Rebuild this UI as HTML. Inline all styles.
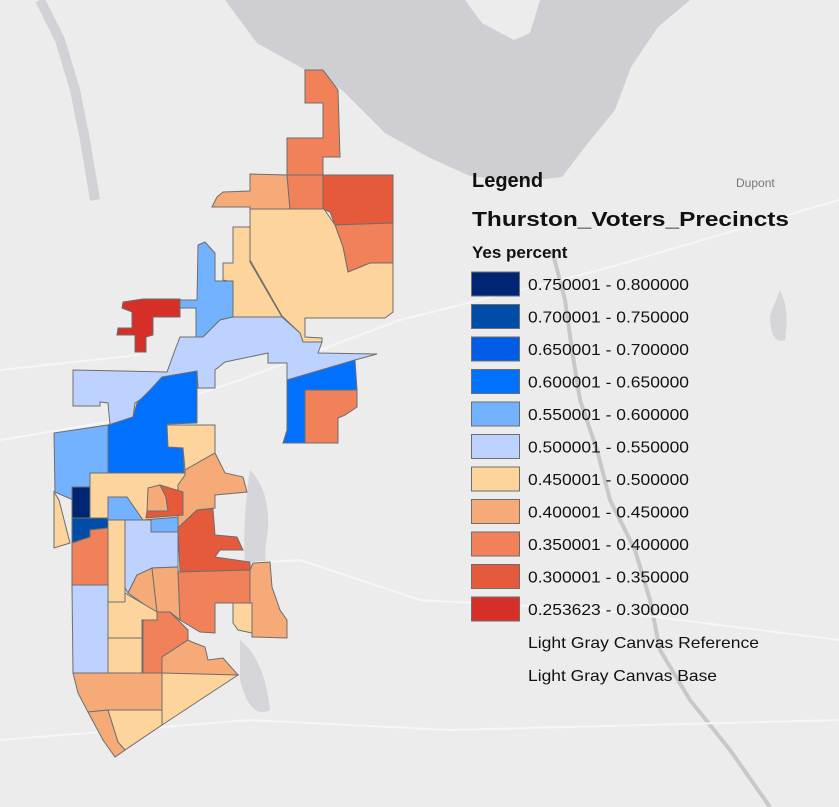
<!DOCTYPE html>
<html><head><meta charset="utf-8"><style>
html,body{margin:0;padding:0;background:#ececec;}
svg{display:block;font-family:"Liberation Sans",sans-serif;}
</style></head><body>
<svg id="map" width="839" height="807" viewBox="0 0 839 807" xmlns="http://www.w3.org/2000/svg">
<rect x="0" y="0" width="839" height="807" fill="#ececec"/>
<g fill="#cfcfd3">
<polygon points="225,0 690,0 658,27 631,67 615,110 588,143 562,177 520,182 470,176 428,157 385,133 342,90 300,67 257,43"/>
<polygon fill="#ececec" points="465,0 540,0 530,33 514,40 482,23"/>
<path fill="#d6d6da" d="M250,470 q20,20 18,60 q-8,40 8,80 q-25,8 -30,-30 q-5,-50 4,-110z M780,290 q10,20 5,50 q-15,5 -15,-25z M240,640 q25,20 30,70 q-20,10 -30,-30z"/>
</g>
<polyline points="40,0 60,40 75,90 85,140 95,200" fill="none" stroke="#d2d2d6" stroke-width="10"/>
<polyline points="552,250 565,300 572,350 580,400 597,450 610,500 635,550 650,600 660,650 690,700 730,750 770,807" fill="none" stroke="#c8c8cc" stroke-width="4"/>
<g fill="none" stroke="#f6f6f6" stroke-width="2">
<polyline points="0,440 120,420 240,380 400,320 600,270 839,200"/>
<polyline points="0,370 140,355"/>
<polyline points="130,570 300,560 420,600 600,610 839,640"/>
<polyline points="0,740 250,720 450,730 839,720"/>
</g>
<text x="736" y="187" font-size="12" fill="#777">Dupont</text>
<g id="precincts" stroke="#6e6e6e" stroke-width="1"></g>
<g id="legend">
<text x="472" y="187" font-size="20" font-weight="bold" fill="#111">Legend</text>
<text x="472" y="226" font-size="20" font-weight="bold" fill="#111" textLength="317" lengthAdjust="spacingAndGlyphs">Thurston_Voters_Precincts</text>
<text x="472" y="258" font-size="17" font-weight="bold" fill="#111">Yes percent</text>
<text x="528" y="648" font-size="16" fill="#111" textLength="231" lengthAdjust="spacingAndGlyphs">Light Gray Canvas Reference</text>
<text x="528" y="681" font-size="16" fill="#111" textLength="189" lengthAdjust="spacingAndGlyphs">Light Gray Canvas Base</text>
</g>
</svg>
<script>
const classLabels = ["0.750001 - 0.800000","0.700001 - 0.750000","0.650001 - 0.700000","0.600001 - 0.650000","0.550001 - 0.600000","0.500001 - 0.550000","0.450001 - 0.500000","0.400001 - 0.450000","0.350001 - 0.400000","0.300001 - 0.350000","0.253623 - 0.300000"];
const classColors = ["#002673","#004da8","#005ce6","#0070ff","#73b2ff","#bed2ff","#fcd49c","#f5aa78","#f08159","#e65a3c","#d62f27"];
const precinctClass = [8,7,8,9,8,6,6,4,10,5,3,3,8,4,6,6,7,9,7,4,4,0,1,6,5,8,6,5,7,7,8,6,8,7,6,6,9,7,7,6,7,6];
const precinctShapes = [
"305,70 323,70 338,90 340,157 323,157 323,175 287,175 287,138 323,138 323,103 305,103",
"250,174 287,175 290,209 250,209 250,207 212,207 217,197 223,192 250,191",
"287,175 323,175 323,209 290,209",
"323,175 393,175 393,223 335,225 330,212 323,209",
"335,225 393,223 393,263 370,263 348,272 343,247",
"250,209 324,209 335,225 343,247 348,272 370,263 393,263 393,312 385,318 305,318 305,337 322,338 322,342 303,342 300,333 282,316 250,260",
"233,227 250,227 250,262 282,317 233,317 232,282 223,280 223,263 233,263",
"180,300 197,300 198,245 205,242 215,253 215,281 233,281 233,317 220,320 203,337 196,337 196,308 180,308",
"123,302 143,299 180,299 180,317 153,317 153,335 146,337 146,352 135,352 135,335 117,335 118,328 132,328 132,312 122,308",
"73,370 167,372 175,350 180,337 203,337 220,320 233,317 282,317 300,333 303,342 322,342 318,353 377,354 355,360 287,380 287,363 268,363 268,353 225,362 215,370 215,388 198,388 197,371 167,378 150,393 135,403 133,417 110,425 108,403 100,402 100,406 73,406",
"108,425 133,417 137,403 150,390 162,377 197,371 197,423 167,424 168,447 183,448 184,474 108,473",
"287,380 355,360 357,390 305,390 305,443 283,443 287,430",
"305,390 357,390 357,407 345,415 338,418 338,443 305,443",
"54,433 108,425 108,487 73,487 73,500 55,492",
"90,473 185,473 185,520 90,520",
"167,425 215,425 215,453 185,470 183,448 168,447",
"185,470 215,453 225,473 243,477 247,492 215,495 215,508 197,510 178,528 178,485 185,475",
"178,528 197,510 213,509 215,535 237,537 243,550 220,550 215,557 250,562 250,570 180,572",
"148,488 160,485 166,497 168,511 147,511",
"108,497 127,497 143,520 108,520",
"143,520 178,517 178,532 151,532",
"72,487 90,487 90,518 72,518",
"72,518 108,518 108,528 90,530 90,537 72,543",
"54,492 59,500 70,543 54,548",
"125,520 151,520 151,532 178,532 178,567 152,568 150,575 137,575 128,593 125,588",
"72,543 90,537 90,530 108,528 108,585 72,585",
"108,520 125,520 125,602 108,602",
"72,585 108,585 108,673 73,673",
"128,593 137,575 152,568 157,612 155,612",
"152,568 178,567 180,620 170,612 157,612",
"178,572 250,570 250,603 215,603 215,633 200,632 180,620",
"125,593 157,612 157,620 142,620 142,638 108,638 108,602 125,602",
"143,620 157,620 157,612 170,612 188,630 188,640 162,657 162,673 143,673",
"162,657 188,640 192,642 205,647 208,660 223,658 238,675 162,675",
"108,638 142,638 142,673 108,673",
"233,603 252,603 252,633 238,630 233,623",
"160,485 183,492 183,515 146,518 147,511 168,511 166,497",
"250,570 253,563 270,562 272,587 280,610 287,620 287,638 252,637 252,603 250,603",
"73,673 162,673 162,710 108,710 88,712 78,693",
"162,673 238,675 162,725",
"88,712 108,710 118,742 125,750 115,757 103,740",
"108,710 162,710 162,725 125,750 118,742"
];
const pg = document.getElementById('precincts');
const NS = 'http://www.w3.org/2000/svg';
precinctShapes.forEach((pts, i) => {
  const p = document.createElementNS(NS, 'polygon');
  p.setAttribute('points', pts);
  p.setAttribute('fill', classColors[precinctClass[i]]);
  
  
  pg.appendChild(p);
});
const lg = document.getElementById('legend');
classLabels.forEach((lab, i) => {
  const y = 272 + i * 32.5;
  const r = document.createElementNS(NS, 'rect');
  r.setAttribute('x', 471.5); r.setAttribute('y', y);
  r.setAttribute('width', 48); r.setAttribute('height', 24);
  r.setAttribute('fill', classColors[i]); r.setAttribute('stroke', '#6e6e6e');
  
  
  lg.appendChild(r);
  const t = document.createElementNS(NS, 'text');
  t.setAttribute('x', 528); t.setAttribute('y', y + 18);
  t.setAttribute('font-size', '16'); t.setAttribute('fill', '#111');
  t.setAttribute('textLength', '161');
  t.setAttribute('lengthAdjust', 'spacingAndGlyphs');
  t.textContent = lab;
  
  
  lg.appendChild(t);
});
</script>
</body></html>
